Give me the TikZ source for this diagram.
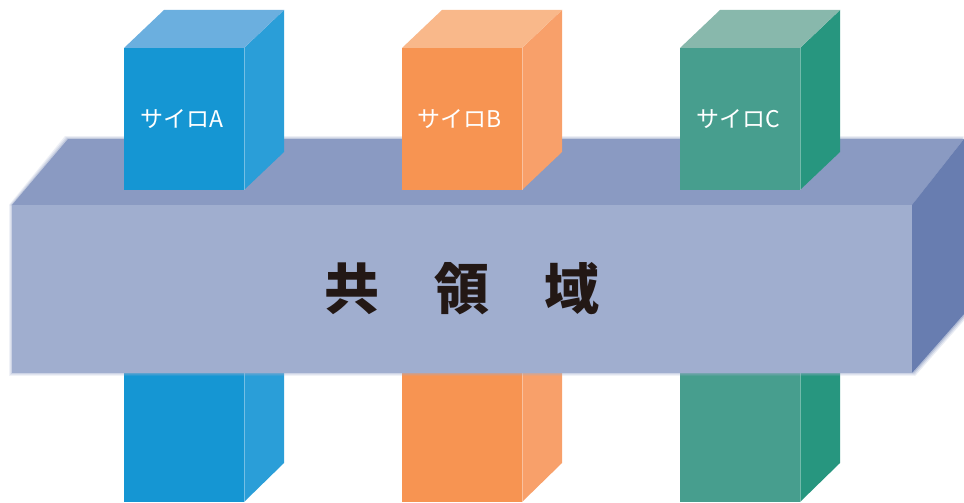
\documentclass[tikz,border=0pt]{standalone}
\usepackage{fontspec}
\newfontfamily\jp{Noto Sans CJK JP}
\usetikzlibrary{calc}
\definecolor{aFront}{HTML}{1596D3}
\definecolor{aSide}{HTML}{2A9ED8}
\definecolor{aTop}{HTML}{6BAFDF}
\definecolor{bFront}{HTML}{F79452}
\definecolor{bSide}{HTML}{F8A06A}
\definecolor{bTop}{HTML}{F9B88A}
\definecolor{cFront}{HTML}{479E8E}
\definecolor{cSide}{HTML}{27967F}
\definecolor{cTop}{HTML}{88B8AC}
\definecolor{barFront}{HTML}{A0AECF}
\definecolor{barTop}{HTML}{8A9AC2}
\definecolor{barSide}{HTML}{687DB0}
\definecolor{bigText}{HTML}{231815}
\tikzset{
  silolabel/.style={text=white, font=\jp\fontsize{23}{26}\selectfont, inner sep=0pt},
  bartext/.style={text=bigText, font=\jp\bfseries\fontsize{55}{60}\selectfont, inner sep=0pt},
  edge/.style={draw=white, draw opacity=0.35, line width=0.6pt}
}
% \pillarlow{x}{front}{side}
\newcommand{\pillarlow}[3]{%
  \fill[#2] (#1,300) rectangle (#1+120,502);
  \fill[#3] (#1+120,300) -- (#1+160,300) -- (#1+160,463) -- (#1+120,502) -- cycle;
  \draw[edge] (#1+120,360) -- (#1+120,502);
}
\newcommand{\pillarhigh}[4]{%
  \fill[#2] (#1,48) rectangle (#1+120,190);
  \fill[#3] (#1+120,48) -- (#1+160,10) -- (#1+160,152) -- (#1+120,190) -- cycle;
  \fill[#4] (#1,48) -- (#1+40,10) -- (#1+160,10) -- (#1+120,48) -- cycle;
  \draw[edge] (#1+120,48) -- (#1+120,190);
}
\begin{document}
\begin{tikzpicture}[x=1pt,y=-1pt]
\useasboundingbox (0,0) rectangle (964,503);
\fill[white] (0,0) rectangle (964,503);
% lower parts of the pillars
\pillarlow{124}{aFront}{aSide}
\pillarlow{402}{bFront}{bSide}
\pillarlow{680}{cFront}{cSide}
% soft halo of the bar
\foreach \d/\o in {3/0.15,2/0.2,1/0.3}{
  \fill[barFront, opacity=\o] (12-\d,205) rectangle (912+\d,373+\d);
  \fill[barSide, opacity=\o] (912,205) -- (964,139) -- (964+\d,314+\d) -- (912+\d,373+\d) -- cycle;
  \fill[barTop, opacity=\o] (12-\d,205) -- (68-\d,139-\d) -- (964,139-\d) -- (912,205) -- cycle;
}
% the bar
\fill[barTop] (12,205) -- (68,139) -- (964,139) -- (912,205) -- cycle;
\fill[barSide] (912,205) -- (964,139) -- (964,314) -- (912,373) -- cycle;
\fill[barFront] (12,205) rectangle (912,373);
% upper parts of the pillars
\pillarhigh{124}{aFront}{aSide}{aTop}
\pillarhigh{402}{bFront}{bSide}{bTop}
\pillarhigh{680}{cFront}{cSide}{cTop}
% labels
\node[silolabel] (la) at (182,119) {サイロA};
\node[silolabel] (lb) at (460,119) {サイロB};
\node[silolabel] (lc) at (738,119) {サイロC};
\node[bartext] (common) at (462,289) {共　領　域};
\end{tikzpicture}
\end{document}
